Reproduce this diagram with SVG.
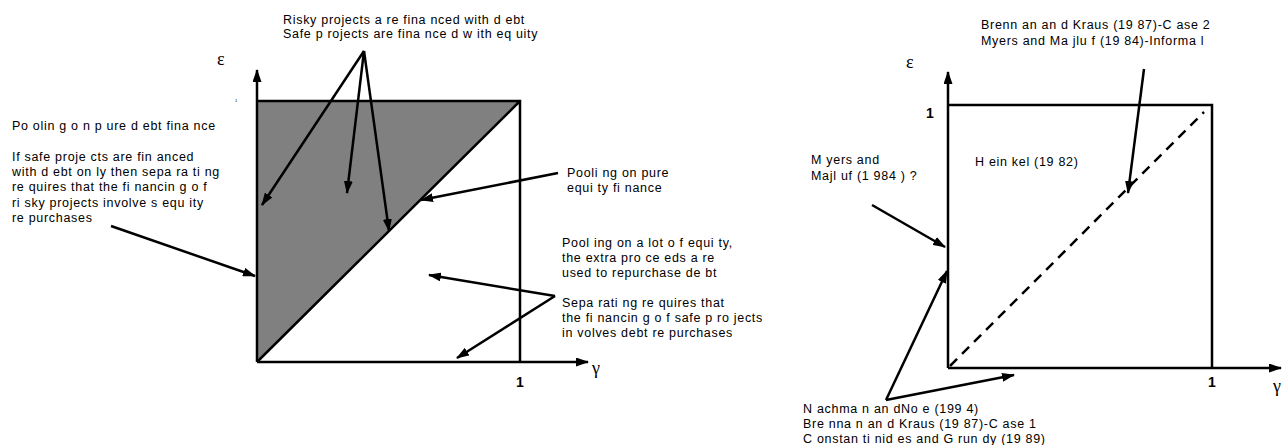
<svg xmlns="http://www.w3.org/2000/svg" width="1284" height="445" viewBox="0 0 1284 445">
<style>
.t{font-family:"Liberation Sans",Arial,sans-serif;font-size:12.5px;letter-spacing:0.7px;fill:#000}
.g{font-family:"Liberation Serif","Times New Roman",serif;font-size:18px;fill:#000}
.n{font-family:"Liberation Sans",Arial,sans-serif;font-size:14px;font-weight:bold;fill:#000}
.ln{stroke:#000;stroke-width:2.5;fill:none}
.ar{stroke:#000;stroke-width:2.5;fill:none;marker-end:url(#ah)}
.ax{stroke:#000;stroke-width:2.5;fill:none;marker-end:url(#ah)}
.ds{stroke:#000;stroke-width:2.5;fill:none;stroke-dasharray:10 7}
</style>
<defs>
<marker id="ah" markerUnits="userSpaceOnUse" markerWidth="13" markerHeight="9" refX="12" refY="4.5" orient="auto">
<path d="M0,0 L13,4.5 L0,9 z" fill="#000"/>
</marker>
</defs>
<rect width="1284" height="445" fill="#fff"/>

<!-- Left diagram -->
<g id="left-chart">
<polygon points="257,101 520,101 257,362" fill="#808080"/>
<path class="ln" d="M257,101 H520 V362 M257,362 L520,101"/>
<path class="ax" d="M257,362 V70"/>
<path class="ax" d="M257,362 H588"/>
<text class="g" x="217" y="65">ε</text>
<text class="g" x="592" y="374">γ</text>
<text class="n" x="516" y="387" font-weight="normal">1</text>
<text x="235" y="102" font-family="Liberation Sans, sans-serif" font-size="4">1</text>
</g>

<g id="left-top-label">
<text class="t" x="283" y="24">Risky projects a re fina nced with d ebt</text>
<text class="t" x="283" y="38">Safe p rojects are fina nce d w ith eq uity</text>
</g>
<g id="left-debt-label">
<text class="t" x="12" y="130">Po olin g o n p ure d ebt fina nce</text>
<text class="t" x="12" y="161">If safe proje cts are fin anced</text>
<text class="t" x="12" y="176">with d ebt on ly then sepa ra ti ng</text>
<text class="t" x="12" y="191">re quires that the fi nancin g o f</text>
<text class="t" x="12" y="207">ri sky projects involve s equ ity</text>
<text class="t" x="12" y="222">re purchases</text>
</g>
<g id="left-equity-label">
<text class="t" x="567" y="177">Pooli ng on pure</text>
<text class="t" x="567" y="192">equi ty fi nance</text>
</g>
<g id="left-lot-label">
<text class="t" x="562" y="247">Pool ing on a lot o f equi ty,</text>
<text class="t" x="562" y="262">the extra pro ce eds a re</text>
<text class="t" x="562" y="277">used to repurchase de bt</text>
</g>
<g id="left-sep-label">
<text class="t" x="562" y="307">Sepa rati ng re quires that</text>
<text class="t" x="562" y="322">the fi nancin g o f safe p ro jects</text>
<text class="t" x="562" y="337">in volves debt re purchases</text>
</g>

<!-- Right diagram -->
<g id="right-chart">
<path class="ln" d="M948,105 H1212 V368"/>
<path class="ax" d="M948,368 V72"/>
<path class="ax" d="M948,368 H1281"/>
<path class="ds" d="M950,366 L1204,112"/>
<text class="g" x="906" y="68">ε</text>
<text class="g" x="1273" y="392">γ</text>
<text class="n" x="926" y="118">1</text>
<text class="n" x="1208" y="387">1</text>
</g>
<g id="right-heinkel">
<text class="t" x="975" y="166">H ein kel (19 82)</text>
</g>
<g id="right-brennan2">
<text class="t" x="981" y="29">Brenn an an d Kraus (19 87)-C ase 2</text>
<text class="t" x="981" y="45">Myers and Ma jlu f (19 84)-Informa l</text>
</g>
<g id="right-myers">
<text class="t" x="811" y="164">M yers and</text>
<text class="t" x="811" y="180">Majl uf (1 984 ) ?</text>
</g>
<g id="right-nachman">
<text class="t" x="803" y="413">N achma n an dNo e (199 4)</text>
<text class="t" x="803" y="428">Bre nna n an d Kraus (19 87)-C ase 1</text>
<text class="t" x="803" y="443">C onstan ti nid es and G run dy (19 89)</text>
</g>

<g id="connectors">
<path class="ar" d="M364,51 L262,205"/>
<path class="ar" d="M364,51 L347,193"/>
<path class="ar" d="M364,51 L389,231"/>
<path class="ar" d="M558,173 L421,200"/>
<path class="ar" d="M111,226 L255,276"/>
<path class="ar" d="M555,296 L429,275"/>
<path class="ar" d="M555,296 L457,358"/>
<path class="ar" d="M1144,69 L1128,193"/>
<path class="ar" d="M872,205 L945,247"/>
<path class="ar" d="M886,400 L947,271"/>
<path class="ar" d="M886,400 L1014,375"/>
</g>
</svg>
